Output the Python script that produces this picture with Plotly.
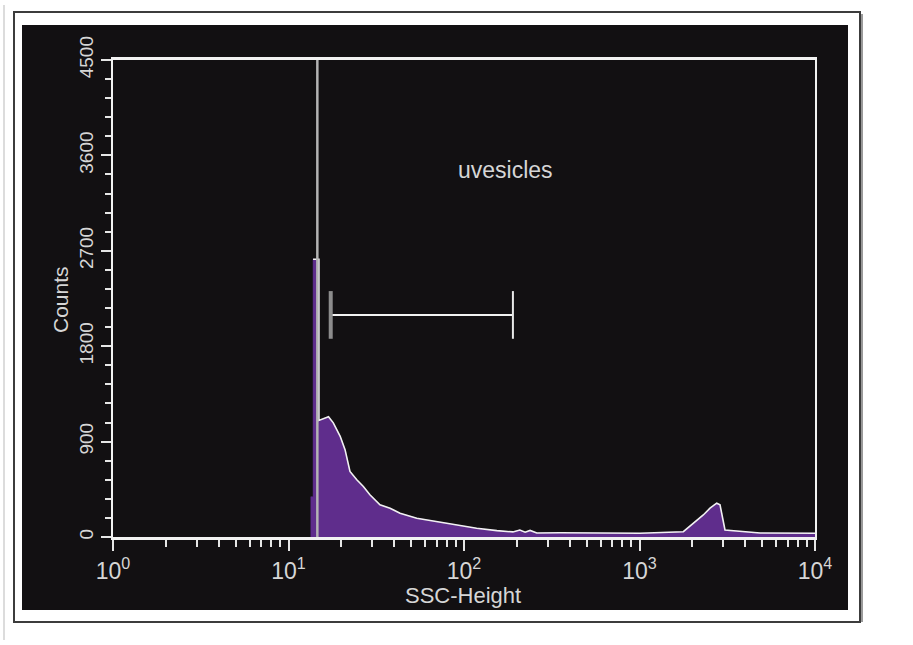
import plotly.graph_objects as go

# ---- data ----
ssc = [13.4, 13.4, 13.8, 13.8, 14.9, 14.9, 15.5, 16.9, 18.0, 19.7, 21.0, 22.4, 24.5, 26.7,
       29.1, 33.2, 37.9, 43.2, 53.8, 69.9, 90.9, 118, 154, 190, 208, 223, 238, 260, 352,
       596, 1007, 1777, 2026, 2309, 2522, 2754, 2876, 3070, 4860, 10000]
counts = [0, 380, 380, 2620, 2620, 1100, 1110, 1134, 1077, 950, 824, 619, 540, 477,
          398, 303, 272, 225, 177, 145, 114, 82, 60, 48, 66, 45, 62, 38, 40,
          38, 36, 50, 130, 208, 272, 319, 303, 66, 38, 36]

x_tick_vals = [1, 10, 100, 1000, 10000]
x_tick_text = ["10<sup>0</sup>", "10<sup>1</sup>", "10<sup>2</sup>", "10<sup>3</sup>", "10<sup>4</sup>"]
y_tick_vals = [0, 900, 1800, 2700, 3600, 4500]

cursor_x = 14.6
gate_lo, gate_hi, gate_count = 17.4, 190, 2094
gate_bar_lo, gate_bar_hi = 1870, 2320
gate_label = "uvesicles"

x_minor = [m * d for d in x_tick_vals[:-1] for m in range(2, 10)]

PURPLE = "#5f2d8c"
LABEL = "#d6d6d6"

fig = go.Figure()
fig.add_trace(go.Scatter(x=ssc, y=counts, mode="lines", fill="tozeroy",
                         fillcolor=PURPLE, line=dict(color=PURPLE, width=0.5),
                         hoverinfo="skip", showlegend=False))
fig.add_trace(go.Scatter(x=ssc[3:], y=counts[3:], mode="lines",
                         line=dict(color="#f2f2f2", width=1.6),
                         hoverinfo="skip", showlegend=False))
fig.add_trace(go.Scatter(x=[cursor_x, cursor_x], y=[0, y_tick_vals[-1]], mode="lines",
                         line=dict(color="#b4b4b4", width=2.5),
                         hoverinfo="skip", showlegend=False))
# gate marker
fig.add_trace(go.Scatter(x=[gate_lo, gate_hi], y=[gate_count, gate_count], mode="lines",
                         line=dict(color="#f2f2f2", width=2), hoverinfo="skip", showlegend=False))
fig.add_trace(go.Scatter(x=[gate_lo, gate_lo], y=[gate_bar_lo, gate_bar_hi], mode="lines",
                         line=dict(color="#8c8c8c", width=4), hoverinfo="skip", showlegend=False))
fig.add_trace(go.Scatter(x=[gate_hi, gate_hi], y=[gate_bar_lo, gate_bar_hi], mode="lines",
                         line=dict(color="#e8e8e8", width=2), hoverinfo="skip", showlegend=False))

# plot area in pixels: left 113, right 815, top 60, bottom 537
L, R, T, B = 113, 815, 60, 537
W, H = 913, 645
def px(xp):
    return (xp - L) / (R - L)
def py(yp):
    return (B - yp) / (B - T)

shapes = [
    dict(type="line", xref="paper", yref="paper", x0=px(4), x1=px(4), y0=py(640), y1=py(5),
         line=dict(color="#d0d0d0", width=1.5), layer="below"),
    dict(type="rect", xref="paper", yref="paper", x0=px(14), x1=px(860), y0=py(622), y1=py(12),
         line=dict(color="#3c3c3c", width=2), fillcolor="white", layer="below"),
    dict(type="line", xref="paper", yref="paper", x0=px(862), x1=px(862), y0=py(622), y1=py(14),
         line=dict(color="#9a9a9a", width=2), layer="below"),
    dict(type="rect", xref="paper", yref="paper", x0=px(22), x1=px(848), y0=py(610), y1=py(25),
         line=dict(width=0), fillcolor="#121012", layer="below"),
]

fig.update_layout(
    width=W, height=H,
    margin=dict(l=L, r=W - R, t=T, b=H - B),
    paper_bgcolor="white", plot_bgcolor="#121012",
    shapes=shapes,
    showlegend=False,
    annotations=[
        dict(text=gate_label, xref="paper", yref="paper", x=px(505), y=py(170),
             xanchor="center", yanchor="middle",
             showarrow=False, font=dict(family="Liberation Sans, Arial", size=23, color=LABEL)),
        dict(text="Counts", xref="paper", yref="paper", x=px(60), y=py(300), textangle=-90,
             xanchor="center", yanchor="middle",
             showarrow=False, font=dict(family="Liberation Sans, Arial", size=21, color=LABEL)),
        dict(text="SSC-Height", xref="paper", yref="paper", x=px(463), y=py(595),
             xanchor="center", yanchor="middle",
             showarrow=False, font=dict(family="Liberation Sans, Arial", size=22, color=LABEL)),
    ],
    xaxis=dict(
        type="log", range=[0, 4], tickmode="array", tickvals=x_tick_vals, ticktext=x_tick_text,
        ticks="outside", ticklen=11, tickwidth=2, tickcolor="#e6e6e6",
        showline=True, linecolor="#f2f2f2", linewidth=3, mirror=True,
        showgrid=False, zeroline=False,
        tickfont=dict(family="Liberation Sans, Arial", size=23, color=LABEL),
        minor=dict(tickmode="array", tickvals=x_minor, ticks="outside", ticklen=7,
                   tickwidth=2, tickcolor="#e6e6e6", showgrid=False),
    ),
    yaxis=dict(
        range=[0, 4500], tickmode="array", tickvals=y_tick_vals,
        ticks="outside", ticklen=10, tickwidth=2, tickcolor="#e6e6e6",
        showline=True, linecolor="#f2f2f2", linewidth=2, mirror=True,
        showgrid=False, zeroline=False, tickangle=-90,
        tickfont=dict(family="Liberation Sans, Arial", size=19, color=LABEL),
        minor=dict(dtick=180, tick0=0, ticks="outside", ticklen=6, tickwidth=1.5,
                   tickcolor="#e6e6e6", showgrid=False),
    ),
)

fig.write_html("out.html")
